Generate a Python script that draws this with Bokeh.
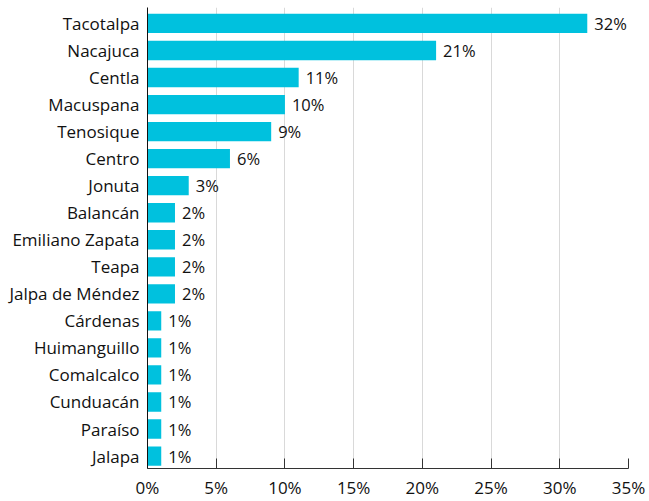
from bokeh.plotting import figure
from bokeh.models import ColumnDataSource, FixedTicker, Range1d
from bokeh.core.properties import value
from bokeh.embed import file_html
from bokeh.resources import INLINE

municipios = ["Tacotalpa", "Nacajuca", "Centla", "Macuspana", "Tenosique", "Centro",
              "Jonuta", "Balancán", "Emiliano Zapata", "Teapa", "Jalpa de Méndez",
              "Cárdenas", "Huimanguillo", "Comalcalco", "Cunduacán", "Paraíso", "Jalapa"]
porcentajes = [32, 21, 11, 10, 9, 6, 3, 2, 2, 2, 2, 1, 1, 1, 1, 1, 1]
x_ticks = [0, 5, 10, 15, 20, 25, 30, 35]

n = len(municipios)
ypos = [n - 1 - i for i in range(n)]
labels = [f"{v}%" for v in porcentajes]

src = ColumnDataSource(dict(y=ypos, v=porcentajes, lab=labels, name=municipios))

FONT = "Open Sans"
TXT = "#111111"
p = figure(width=649, height=501, output_backend="svg", toolbar_location=None,
           x_range=Range1d(0, 35), y_range=Range1d(-0.46, 16.59),
           min_border_left=147, min_border_right=21, min_border_top=7, min_border_bottom=0)
p.outline_line_color = None

p.hbar(y="y", left=0, right="v", height=0.715, source=src, color="#00C1DE", line_color=None)
p.text(x="v", y="y", text="lab", source=src, x_offset=7, text_baseline="middle",
       text_align="left", text_font=value(FONT), text_font_size="16.5px", text_color=TXT)

p.xaxis.ticker = FixedTicker(ticks=x_ticks)
p.xaxis.major_label_overrides = {t: f"{t}%" for t in x_ticks}
p.xaxis.major_tick_in = 10
p.xaxis.major_tick_out = 0
p.xaxis.minor_tick_line_color = None
p.xaxis.axis_line_color = "#333333"
p.xaxis.major_tick_line_color = "#333333"
p.xaxis.major_label_text_font = FONT
p.xaxis.major_label_text_font_size = "17px"
p.xaxis.major_label_text_color = TXT
p.xaxis.major_label_standoff = 7

p.yaxis.ticker = FixedTicker(ticks=ypos)
p.yaxis.major_label_overrides = {y: nm for y, nm in zip(ypos, municipios)}
p.yaxis.major_tick_in = 0
p.yaxis.major_tick_out = 0
p.yaxis.minor_tick_line_color = None
p.yaxis.axis_line_color = "#111111"
p.yaxis.major_label_text_font = FONT
p.yaxis.major_label_text_font_size = "17px"
p.yaxis.major_label_text_color = TXT
p.yaxis.major_label_standoff = 8

p.xgrid.grid_line_color = "#d9d9d9"
p.xgrid.ticker = FixedTicker(ticks=x_ticks[1:])
p.ygrid.grid_line_color = None

open("out.html", "w").write(file_html(p, INLINE))
